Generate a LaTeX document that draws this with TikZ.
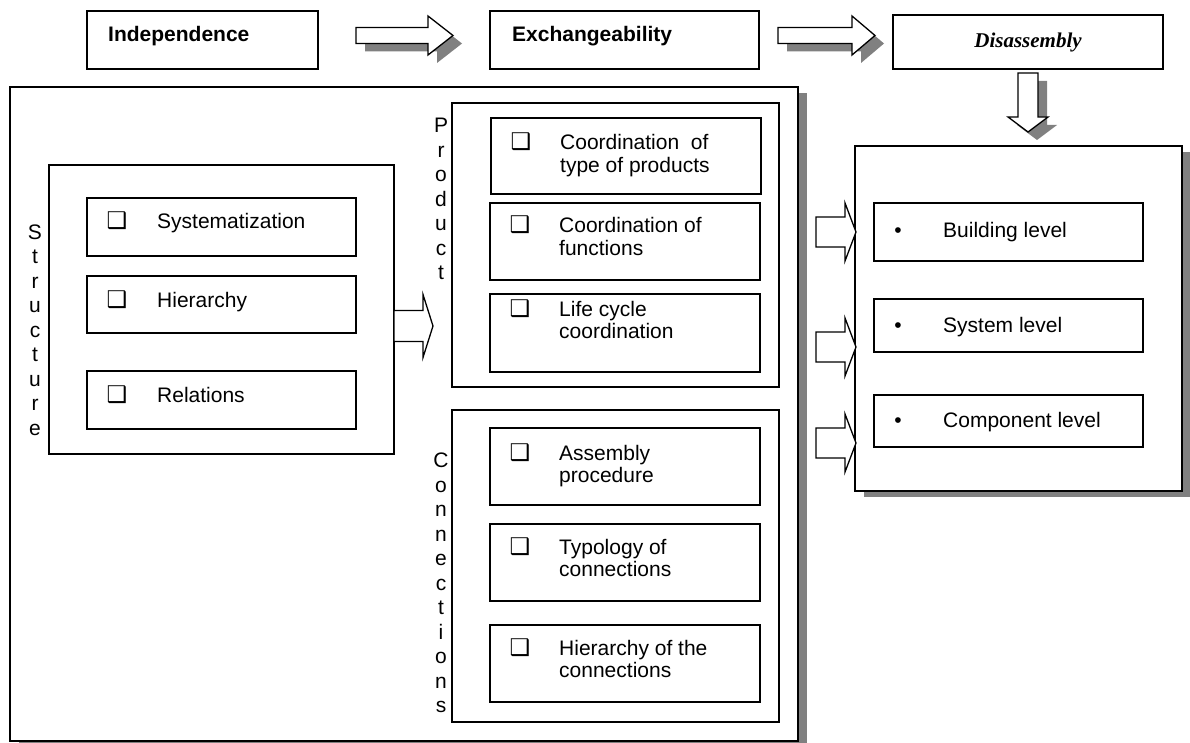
\documentclass[tikz,border=0pt]{standalone}
\usepackage{fontspec}
\setmainfont{Liberation Sans}
\newfontfamily\symfont{DejaVu Sans}
\newfontfamily\serifb{Liberation Serif}
\usetikzlibrary{calc,shadows}
\definecolor{shgray}{HTML}{808080}

% horizontal block arrow: x0, x1 (tip), y centre, shaft half, head half, head length
\newcommand\harrow[6]{(#1,{#3-#4}) -- ({#2-#6},{#3-#4}) -- ({#2-#6},{#3-#5}) -- (#2,#3) -- ({#2-#6},{#3+#5}) -- ({#2-#6},{#3+#4}) -- (#1,{#3+#4}) -- cycle}
% vertical block arrow: y0, y1 (tip), x centre, shaft half, head half, head length
\newcommand\varrow[6]{({#3-#4},#1) -- ({#3-#4},{#2-#6}) -- ({#3-#5},{#2-#6}) -- (#3,#2) -- ({#3+#5},{#2-#6}) -- ({#3+#4},{#2-#6}) -- ({#3+#4},#1) -- cycle}
\newcommand\chk{{\symfont\fontsize{23}{23}\selectfont ❑}}

\begin{document}
\begin{tikzpicture}[x=1pt,y=-1pt,
  box/.style={draw=black, line width=1.3pt, fill=white, inner sep=0pt, outer sep=0pt, anchor=north west},
  bigshadow/.style={drop shadow={shadow xshift=9pt, shadow yshift=-6pt, fill=shgray, opacity=1}},
  arrshadow/.style={drop shadow={shadow xshift=9pt, shadow yshift=-8pt, fill=shgray, opacity=1}},
  blockarrow/.style={draw=black, line width=1.3pt, fill=white, line join=miter},
  txt/.style={inner sep=0pt, font=\fontsize{21}{22.5}\selectfont},
  head/.style={inner sep=0pt, font=\fontsize{21}{22.5}\selectfont\bfseries},
  sym/.style={inner sep=0pt},
  vlab/.style={inner sep=0pt, align=center, font=\fontsize{21}{24.5}\selectfont}]
\useasboundingbox (0,0) rectangle (1190,743);

% top row
\node[box, minimum width=231, minimum height=58] (ind) at (87,11) {};
\node[head, anchor=base west] (indt) at ($(ind.north west)+(21,31)$) {Independence};
\node[box, minimum width=269, minimum height=58] (exch) at (490,11) {};
\node[head, anchor=base west] (excht) at ($(exch.north west)+(22,31)$) {Exchangeability};
\node[box, minimum width=270, minimum height=54, font=\serifb\fontsize{21}{22}\selectfont\bfseries\itshape] (dis) at (893,15) {Disassembly};

\draw[blockarrow, arrshadow] \harrow{356}{453}{35.5}{8}{19.5}{25};
\draw[blockarrow, arrshadow] \harrow{778}{875}{35.5}{8}{19.5}{23};
\draw[blockarrow, arrshadow] \varrow{73}{132}{1028}{10}{20}{15};

% left block
\node[box, bigshadow, minimum width=788, minimum height=654] (big) at (10,87) {};

\node[box, minimum width=345, minimum height=289] (struct) at (49,165) {};
\node[vlab] (slab) at (35,330) {S\\t\\r\\u\\c\\t\\u\\r\\e};
\node[box, minimum width=269, minimum height=58] (sys) at (87,198) {};
\node[box, minimum width=269, minimum height=57] (hier) at (87,276) {};
\node[box, minimum width=269, minimum height=58] (rel) at (87,371) {};
\foreach \b/\t in {sys/Systematization, hier/Hierarchy, rel/Relations}{
  \node[sym, anchor=base] at ($(\b.north west)+(30,31)$) {\chk};
  \node[txt, anchor=base west] at ($(\b.north west)+(70,31)$) {\t};
}

\draw[blockarrow] \harrow{394}{433}{326}{15.5}{31.5}{10};

\node[box, minimum width=327, minimum height=284] (prod) at (452,103) {};
\node[vlab] (plab) at (441,199) {P\\r\\o\\d\\u\\c\\t};
\node[box, minimum width=270, minimum height=76] (ctype) at (491,118) {};
\node[box, minimum width=270, minimum height=77] (cfunc) at (490,203) {};
\node[box, minimum width=270, minimum height=78] (life) at (490,294) {};

\node[box, minimum width=327, minimum height=312] (conn) at (452,410) {};
\node[vlab] (clab) at (441,583) {C\\o\\n\\n\\e\\c\\t\\i\\o\\n\\s};
\node[box, minimum width=270, minimum height=77] (asm) at (490,428) {};
\node[box, minimum width=270, minimum height=77] (typo) at (490,524) {};
\node[box, minimum width=270, minimum height=77] (hconn) at (490,625) {};

\foreach \b/\d/\la/\lb in {ctype/32/{Coordination\ \ of}/{type of products},
    cfunc/30/{Coordination of}/{functions},
    life/22/{Life cycle}/{coordination},
    asm/32/{Assembly}/{procedure},
    typo/30/{Typology of}/{connections},
    hconn/30/{Hierarchy of the}/{connections}}{
  \node[sym, anchor=base] at ($(\b.north west)+(30,\d)$) {\chk};
  \node[txt, anchor=base west] at ($(\b.north west)+(69,\d)$) {\vtop{\hbox{\la}\hbox{\lb}}};
}

% right block
\node[box, bigshadow, minimum width=327, minimum height=345] (panel) at (855,146) {};
\node[box, minimum width=269, minimum height=58] (bld) at (874,203) {};
\node[box, minimum width=269, minimum height=53] (sysl) at (874,299) {};
\node[box, minimum width=269, minimum height=52] (comp) at (874,395) {};
\foreach \b/\d/\t in {bld/34/Building level, sysl/33/System level, comp/32/Component level}{
  \node[txt, anchor=base] at ($(\b.north west)+(24,\d)$) {•};
  \node[txt, anchor=base west] at ($(\b.north west)+(69,\d)$) {\t};
}

\draw[blockarrow] \harrow{816}{856}{232}{15}{29}{11};
\draw[blockarrow] \harrow{816}{856}{347}{15}{29}{11};
\draw[blockarrow] \harrow{816}{856}{443}{15}{29}{11};
\end{tikzpicture}
\end{document}
